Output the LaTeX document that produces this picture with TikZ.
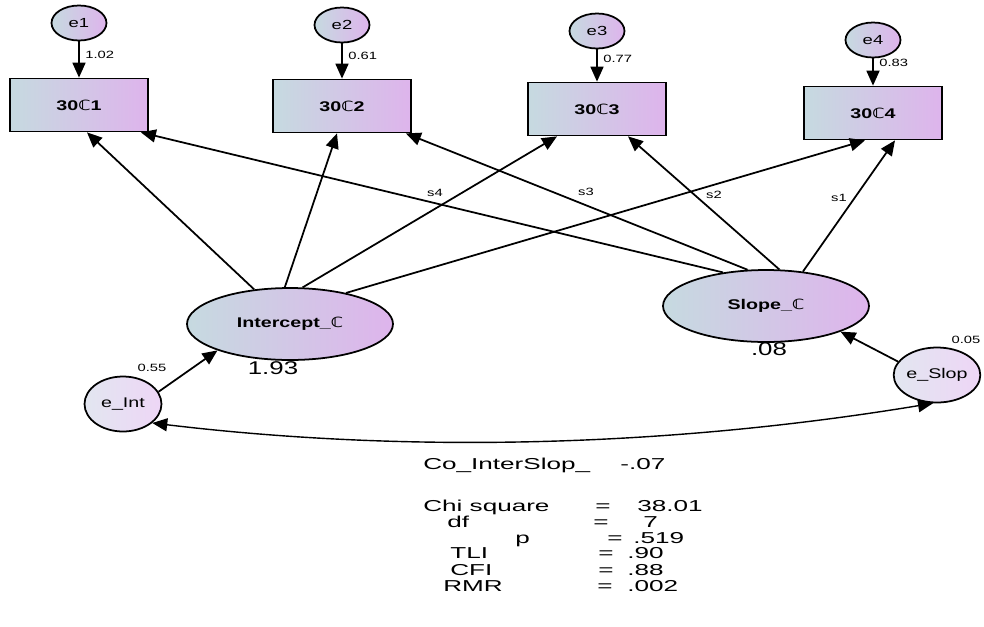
\documentclass[tikz,border=0pt]{standalone}
\usepackage{fontspec}
\setmainfont[FakeStretch=1.4]{Liberation Sans}
\newfontfamily\statfont[FakeStretch=1.65]{Liberation Sans}
\newfontfamily\dejavu[FakeStretch=1.2]{DejaVu Sans}
\usetikzlibrary{arrows.meta,shapes.geometric}

\newcommand{\dbc}{{\dejavu ℂ}}
\definecolor{shadeL}{RGB}{198,218,224}
\definecolor{shadeR}{RGB}{222,180,236}
\definecolor{paleL}{RGB}{226,230,240}
\definecolor{paleR}{RGB}{238,214,246}

\begin{document}
\begin{tikzpicture}[x=0.02cm,y=-0.02cm,
	obs/.style={draw,line width=1pt,rectangle,left color=shadeL,right color=shadeR,minimum width=2.76cm,minimum height=1.06cm,font=\fontsize{8}{9}\selectfont\bfseries},
	err/.style={draw,line width=1pt,ellipse,left color=shadeL,right color=shadeR,inner sep=0pt,minimum width=1.1cm,minimum height=0.7cm,font=\fontsize{7.5}{9}\selectfont},
	lat/.style={draw,line width=1pt,ellipse,left color=shadeL,right color=shadeR,inner sep=0pt,minimum width=4.12cm,minimum height=1.44cm,font=\fontsize{8}{9}\selectfont\bfseries},
	dist/.style={draw,line width=1pt,ellipse,left color=paleL,right color=paleR,inner sep=0pt,minimum width=1.54cm,minimum height=1.1cm,font=\fontsize{8}{9}\selectfont},
	arr/.style={-{Triangle[length=3mm,width=2.6mm]},line width=1pt},
	biarr/.style={{Triangle[length=3mm,width=2.6mm]}-{Triangle[length=3mm,width=2.6mm]},line width=0.8pt},
	small/.style={inner sep=0pt,font=\fontsize{6}{7}\selectfont},
	big/.style={inner sep=0pt,font=\fontsize{10.5}{12}\selectfont},
	stat/.style={inner sep=0pt,anchor=base west,font=\statfont\fontsize{9}{11}\selectfont}]
	
	% fix the page size
	\useasboundingbox (0,0) rectangle (984,626);
	
	% error terms, observed scores and their weights
	\foreach \i/\x/\ye/\yr/\w in {1/79/23/105/1.02, 2/342/25/106/0.61, 3/597/31/109/0.77, 4/873/40/113/0.83} {
		\node[err] (e\i) at (\x,\ye) {e\i};
		\node[obs] (r\i) at (\x,\yr) {30\dbc\i};
		\draw[arr] (e\i) -- (r\i);
		\node[small,anchor=west] (w\i) at ({\x+6},{\yr-50}) {\w};
	}
	
	% latent growth factors and their disturbances
	\node[lat] (int) at (290,324) {Intercept\_\dbc};
	\node[lat] (slp) at (766,306) {Slope\_\dbc};
	\node[dist] (eint) at (123,404) {e\_Int};
	\node[dist] (eslp) at (937,375) {e\_Slop};
	
	% intercept loadings
	\draw[arr] (int.136) -- ([xshift=0.16cm]r1.south);
	\draw[arr] (int.98) -- ([xshift=-0.1cm]r2.south);
	\draw[arr] (int.71) -- ([xshift=-0.8cm]r3.south);
	\draw[arr] (int.29) -- ([xshift=-0.16cm]r4.south);
	
	% slope loadings
	\draw[arr] (slp.142) -- ([xshift=-0.16cm]r1.south east);
	\draw[arr] (slp.117) -- ([xshift=-0.12cm]r2.south east);
	\draw[arr] (slp.70) -- ([xshift=0.62cm]r3.south);
	\draw[arr] (slp.43) -- ([xshift=0.44cm]r4.south);
	\node[small] (ls4) at (435,193) {s4};
	\node[small] (ls3) at (586,192) {s3};
	\node[small] (ls2) at (714,195) {s2};
	\node[small] (ls1) at (839,198) {s1};
	
	% disturbances into factors
	\draw[arr] (eint.19) -- (int.-160);
	\draw[arr] (eslp.161) -- (slp.-19);
	\node[small] (vei) at (152,368) {0.55};
	\node[small] (ves) at (966,340) {0.05};
	\node[big] (vint) at (273,368) {1.93};
	\node[big] (vslp) at (769,349) {.08};
	
	% covariance
	\draw[biarr] (eint.-33) .. controls (420,455) and (680,445) .. (eslp.-98);
	
	% fit summary
	\node[stat] (cov) at (423,469) {Co\_InterSlop\_};
	\node[stat] (covv) at (620,469) {-.07};
	\foreach \yb/\lab/\lx/\ex/\val/\vx [count=\k] in {511/Chi square/423/595/38.01/637, 527/df/447/593/7/643, 543/p/515/607/.519/633, 558.5/TLI/450/598/.90/627, 575/CFI/450/598/.88/627, 591.5/RMR/443/597/.002/627} {
		\node[stat] (lab\k) at (\lx,\yb) {\lab};
		\node[stat] (eq\k) at (\ex,\yb) {=};
		\node[stat] (val\k) at (\vx,\yb) {\val};
	}
	
\end{tikzpicture}
\end{document}
